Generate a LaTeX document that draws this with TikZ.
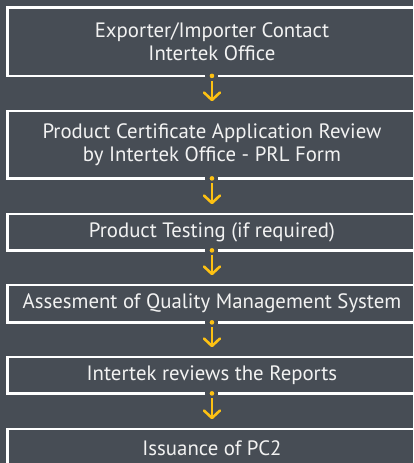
\documentclass[tikz,border=0pt]{standalone}
\usepackage{fontspec}
\setmainfont{PT Sans}
\definecolor{bgc}{HTML}{474D55}
\definecolor{ylw}{HTML}{FDC113}
\definecolor{txt}{HTML}{F2F2F2}
\begin{document}
\begin{tikzpicture}[x=1pt,y=1pt,
  box/.style={draw=none,minimum width=408.5pt,inner sep=0pt,text=txt,
    font=\fontsize{20.8}{23}\selectfont,align=center,anchor=north west},
  border/.style={draw=white,line width=2.6pt},
  conn/.style={draw=ylw,line width=2.6pt},
  head/.style={draw=ylw,line width=2.6pt,line cap=round,line join=round}]
\fill[bgc] (0,0) rectangle (413,-463);
\useasboundingbox (0,0) rectangle (413,-463);
\clip (0,0) rectangle (413,-463);
\node[box,minimum height=68pt] (b1) at (7.5,-7.5) {Exporter/Importer Contact\\Intertek Office};
\node[box,minimum height=67pt] (b2) at (7.5,-111) {Product Certificate Application Review\\by Intertek Office - PRL Form};
\node[box,minimum height=36pt] (b3) at (7.5,-214) {Product Testing (if required)};
\node[box,minimum height=37pt] (b4) at (7.5,-285) {Assesment of Quality Management System};
\node[box,minimum height=36pt] (b5) at (7.5,-357) {Intertek reviews the Reports};
\node[box,minimum height=38pt] (b6) at (7.5,-429) {Issuance of PC2};
\foreach \b in {b1,b2,b3,b4,b5}{
  \draw[border] ([xshift=-6.5pt]\b.south) -- (\b.south west) -- (\b.north west) -- (\b.north east) -- (\b.south east) -- ([xshift=6.5pt]\b.south);
  \fill[ylw] (\b.south) circle (2.3pt);
}
\draw[border] (b6.south west) -- (b6.north west) -- (b6.north east) -- (b6.south east);
\foreach \a/\b in {b1/b2,b2/b3,b3/b4,b4/b5,b5/b6}{
  \coordinate (t\a) at ([yshift=11pt]\b.north);
  \draw[conn] ([yshift=-5pt]\a.south) -- ([yshift=1pt]t\a);
  \draw[head] (t\a) ++(-8,7.5) -- (t\a) -- ++(8,7.5);
}
\end{tikzpicture}
\end{document}
